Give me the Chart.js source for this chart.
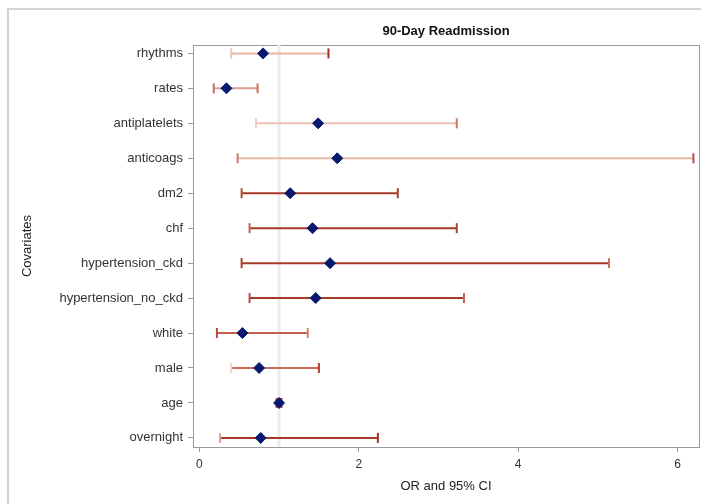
<!DOCTYPE html>
<html>
<head>
<meta charset="utf-8">
<script src="https://cdn.jsdelivr.net/npm/chart.js@4"></script>
<style>
  html, body { margin: 0; padding: 0; background: #fff; }
  #wrap { position: relative; width: 701px; height: 504px; overflow: hidden; }
  #frame { position: absolute; left: 7px; top: 8px; width: 720px; height: 520px;
           border-left: 2px solid #d4d4d4; border-top: 2px solid #d4d4d4; }
  canvas { position: absolute; left: 0; top: 0; }
</style>
</head>
<body>
<div id="wrap">
  <div id="frame"></div>
  <canvas id="chartReadmission" width="701" height="504"></canvas>
</div>
<script>
const covariates = ['rhythms', 'rates', 'antiplatelets', 'anticoags', 'dm2', 'chf',
  'hypertension_ckd', 'hypertension_no_ckd', 'white', 'male', 'age', 'overnight'];
const oddsRatio = [0.80, 0.34, 1.49, 1.73, 1.14, 1.42, 1.64, 1.46, 0.54, 0.75, 1.00, 0.77];
const ciLower   = [0.40, 0.18, 0.71, 0.48, 0.53, 0.63, 0.53, 0.63, 0.22, 0.40, 0.97, 0.26];
const ciUpper   = [1.62, 0.73, 3.23, 6.20, 2.49, 3.23, 5.14, 3.32, 1.36, 1.50, 1.03, 2.24];
const xTicks = [0, 2, 4, 6];

// colours of the CI lines and of their two end caps (lower, upper)
const lineColors = ['#e8b4a4', '#dea190', '#eec3b5', '#eab8a8', '#a63a28', '#a63a28',
  '#a63a28', '#a63a28', '#c0604c', '#c86a55', '#b03020', '#a83a28'];
const capColors = [
  ['#eec3b5', '#a03020'], ['#c87060', '#c87060'], ['#f0cfc4', '#c87a68'], ['#c87a68', '#b05040'],
  ['#b04a38', '#a84030'], ['#c06050', '#a84030'], ['#a84030', '#c87060'], ['#b05040', '#c06050'],
  ['#b04a38', '#d08070'], ['#f0cfc4', '#a84030'], ['#c03020', '#c03020'], ['#e0a090', '#a03020']
];

const axisGray = '#9a9a9a';
const font = 'Arial, "Liberation Sans", sans-serif';

const ciSets = covariates.map(function (name, i) {
  return {
    type: 'line',
    label: name,
    data: [{ x: ciLower[i], y: i }, { x: ciUpper[i], y: i }],
    borderColor: lineColors[i],
    borderWidth: 2,
    pointStyle: 'line',
    rotation: 90,
    pointRadius: 5,
    pointHoverRadius: 5,
    pointBorderWidth: 2,
    pointBorderColor: capColors[i],
    order: 2
  };
});

const ctx = document.getElementById('chartReadmission').getContext('2d');
new Chart(ctx, {
  type: 'scatter',
  data: {
    datasets: [
      {
        type: 'line',
        label: 'ref',
        data: [{ x: 1, y: -1 }, { x: 1, y: 13 }],
        borderColor: '#ebebeb',
        borderWidth: 3,
        pointRadius: 0,
        order: 3
      }
    ].concat(ciSets, [
      {
        label: 'OR',
        data: covariates.map(function (name, i) { return { x: oddsRatio[i], y: i }; }),
        pointStyle: 'rectRot',
        pointRadius: 5.5,
        pointHoverRadius: 5.5,
        backgroundColor: '#06196e',
        borderColor: '#06196e',
        order: 1
      }
    ])
  },
  options: {
    responsive: false,
    animation: false,
    layout: { autoPadding: false, padding: { left: 12, top: 10, right: 2, bottom: 7 } },
    plugins: {
      legend: { display: false },
      tooltip: { enabled: false }
    },
    font: { family: font },
    scales: {
      x: {
        type: 'linear',
        min: -0.08,
        max: 6.27,
        afterBuildTicks: function (s) { s.ticks = xTicks.map(function (v) { return { value: v }; }); },
        afterFit: function (s) { s.height = 50; s.paddingLeft = 0; s.paddingRight = 0; },
        ticks: { color: '#333', font: { family: font, size: 12 }, padding: 5 },
        grid: { drawOnChartArea: false, tickLength: 5, color: axisGray },
        border: { color: axisGray },
        title: {
          display: true, text: 'OR and 95% CI', color: '#222',
          font: { family: font, size: 13 }, padding: { top: 4, bottom: 3 }
        }
      },
      y: {
        type: 'linear',
        reverse: true,
        min: -0.24,
        max: 11.26,
        afterBuildTicks: function (s) { s.ticks = covariates.map(function (c, i) { return { value: i }; }); },
        afterFit: function (s) { s.width = 181; s.paddingTop = 0; s.paddingBottom = 0; },
        ticks: {
          autoSkip: false,
          callback: function (v) { return covariates[v]; },
          color: '#333', font: { family: font, size: 13 }, padding: 5
        },
        grid: { drawOnChartArea: false, tickLength: 5, color: axisGray },
        border: { color: axisGray },
        title: {
          display: true, text: 'Covariates', color: '#222',
          font: { family: font, size: 13 }, padding: { top: 8, bottom: 0 }
        }
      },
      x2: {
        type: 'linear',
        position: 'top',
        min: 0,
        max: 1,
        afterFit: function (s) { s.height = 35; s.paddingLeft = 0; s.paddingRight = 0; },
        ticks: { display: false },
        grid: { drawOnChartArea: false, drawTicks: false },
        border: { display: true, color: axisGray },
        title: {
          display: true, text: '90-Day Readmission', color: '#111',
          font: { family: font, size: 13, weight: 'bold' }, padding: { top: 14, bottom: 0 }
        }
      },
      y2: {
        type: 'linear',
        position: 'right',
        min: 0,
        max: 1,
        afterFit: function (s) { s.width = 0; s.paddingTop = 0; s.paddingBottom = 0; },
        ticks: { display: false },
        grid: { drawOnChartArea: false, drawTicks: false },
        border: { display: true, color: axisGray }
      }
    }
  }
});
</script>
</body>
</html>
